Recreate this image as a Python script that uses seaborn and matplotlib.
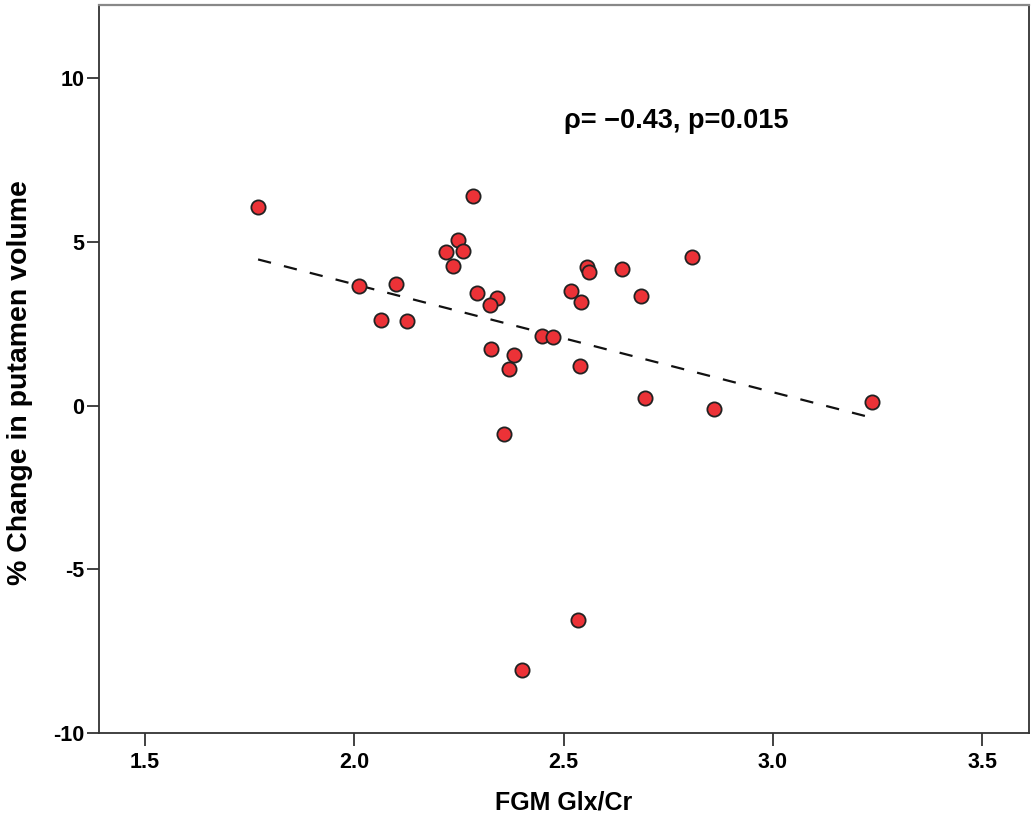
import numpy as np
import pandas as pd
import seaborn as sns
import matplotlib.pyplot as plt

# values
glx_cr = [1.770, 2.284, 2.012, 2.100, 2.064, 2.126, 2.219, 2.248, 2.260, 2.236,
          2.293, 2.341, 2.324, 2.327, 2.382, 2.370, 2.448, 2.475, 2.539, 2.518,
          2.542, 2.556, 2.561, 2.640, 2.685, 2.807, 2.694, 2.859, 3.237, 2.357,
          2.534, 2.400]
putamen_change = [6.06, 6.39, 3.64, 3.70, 2.60, 2.57, 4.68, 5.05, 4.71, 4.25,
                  3.43, 3.27, 3.06, 1.74, 1.53, 1.13, 2.11, 2.08, 1.22, 3.49,
                  3.15, 4.22, 4.07, 4.16, 3.33, 4.53, 0.24, -0.12, 0.12, -0.86,
                  -6.54, -8.07]
x_ticks = [1.5, 2.0, 2.5, 3.0, 3.5]
y_ticks = [-10, -5, 0, 5, 10]
annotation = 'ρ= −0.43, p=0.015'

df = pd.DataFrame({'glx': glx_cr, 'change': putamen_change})

sns.set_style('white')
plt.rcParams['font.family'] = ['Liberation Sans', 'DejaVu Sans']
plt.rcParams['font.weight'] = 'bold'
plt.rcParams['axes.unicode_minus'] = False
plt.rcParams['text.color'] = 'black'
plt.rcParams['axes.labelcolor'] = 'black'
plt.rcParams['xtick.color'] = '#333333'
plt.rcParams['ytick.color'] = '#333333'

fig = plt.figure(figsize=(10.35, 8.17), dpi=100)
ax = fig.add_axes([0.0957, 0.1028, 0.8985, 0.8911])

sns.regplot(data=df, x='glx', y='change', scatter=False, ci=None, truncate=True,
            ax=ax, line_kws=dict(color='#111111', lw=1.6, dashes=(6, 6)))
sns.scatterplot(data=df, x='glx', y='change', ax=ax, s=105, color='#ec3237',
                edgecolor='#222222', linewidth=1.3, zorder=3)

ax.text(2.501, 8.68, annotation, ha='left', va='center', fontsize=19.5, fontweight='bold')

ax.set_xlim(1.39, 3.612)
ax.set_ylim(-10, 12.23)
ax.set_xticks(x_ticks)
ax.set_xticklabels([f'{v:.1f}' for v in x_ticks])
ax.set_yticks(y_ticks)
ax.set_yticklabels([str(v) for v in y_ticks])
ax.tick_params(axis='both', direction='out', length=9, width=1.3,
               labelsize=15.5, labelcolor='black', bottom=True, left=True)
ax.tick_params(axis='x', pad=5)
ax.tick_params(axis='y', pad=1.5)
for lab in ax.get_xticklabels() + ax.get_yticklabels():
    lab.set_fontweight('bold')

for side in ['left', 'bottom', 'right']:
    ax.spines[side].set_color('#333333')
    ax.spines[side].set_linewidth(1.3)
ax.spines['top'].set_color('#888888')
ax.spines['top'].set_linewidth(1.6)

ax.set_xlabel('FGM Glx/Cr', fontsize=18, fontweight='bold', labelpad=12)
ax.set_ylabel('% Change in putamen volume', fontsize=20.5, fontweight='bold')
ax.yaxis.set_label_coords(-0.071, 0.481)

fig.savefig('out.png', dpi=100)
